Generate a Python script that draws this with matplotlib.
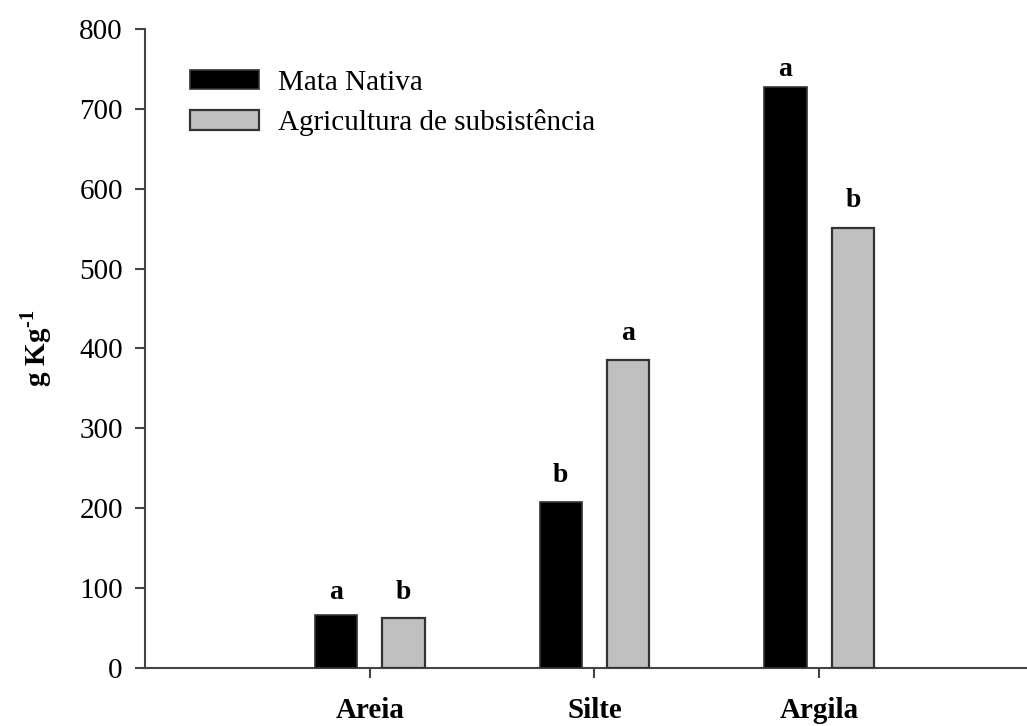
import matplotlib
matplotlib.use("Agg")
import matplotlib.pyplot as plt
import numpy as np

categories = ["Areia", "Silte", "Argila"]
mata_nativa = [66, 208, 727]
agricultura = [63, 385, 551]
letters_mata = ["a", "b", "a"]
letters_agri = ["b", "a", "b"]
series_names = ["Mata Nativa", "Agricultura de subsistência"]
y_ticks = [0, 100, 200, 300, 400, 500, 600, 700, 800]

# gap (points) between each bar top and the baseline of its letter
gap_mata = [11.5, 14.5, 8.0]
gap_agri = [13.5, 14.5, 15.0]

plt.rcParams["font.family"] = ["Liberation Serif", "DejaVu Serif"]
plt.rcParams["mathtext.fontset"] = "custom"
plt.rcParams["mathtext.rm"] = "Liberation Serif"
plt.rcParams["mathtext.bf"] = "Liberation Serif:bold"

fig = plt.figure(figsize=(10.27, 7.26), dpi=100)
ax = fig.add_axes([0.1412, 0.080, 0.86, 0.880])

x = np.arange(1, len(categories) + 1)
off = 0.15
w = 0.188
edge = "#333333"
ax.bar(x - off, mata_nativa, width=w, color="black", edgecolor=edge, linewidth=1.2,
       label=series_names[0], zorder=3)
ax.bar(x + off, agricultura, width=w, color="#c0c0c0", edgecolor=edge, linewidth=1.6,
       label=series_names[1], zorder=3)

for xs, vals, lets, gaps in [(x - off, mata_nativa, letters_mata, gap_mata),
                             (x + off, agricultura, letters_agri, gap_agri)]:
    for xi, v, t, g in zip(xs, vals, lets, gaps):
        ax.annotate(t, (xi, v), xytext=(0, g), textcoords="offset points",
                    ha="center", va="baseline", fontsize=20, fontweight="bold")

ax.set_xlim(0, 3.93)
ax.set_ylim(0, 800)
ax.set_yticks(y_ticks)
ax.set_xticks(x)
ax.set_xticklabels(categories, fontweight="bold")
ax.tick_params(axis="y", labelsize=21, direction="out", length=7, width=1.5, color="#444444", pad=9)
ax.tick_params(axis="x", labelsize=21, direction="out", length=7, width=1.5, color="#444444", pad=14)

for s in ["top", "right"]:
    ax.spines[s].set_visible(False)
for s in ["left", "bottom"]:
    ax.spines[s].set_color("#444444")
    ax.spines[s].set_linewidth(1.5)

ax.set_ylabel(r"g Kg$^{\mathbf{\text{-}1}}$", fontsize=21, fontweight="bold", labelpad=18)

leg = fig.legend(loc="upper left", bbox_to_anchor=(190 / 1027, 1 - 70 / 726), frameon=False,
                 fontsize=21, borderpad=0, borderaxespad=0,
                 handlelength=2.35, handleheight=0.65, handletextpad=0.65, labelspacing=0.45)

fig.savefig("out.png", dpi=100)
